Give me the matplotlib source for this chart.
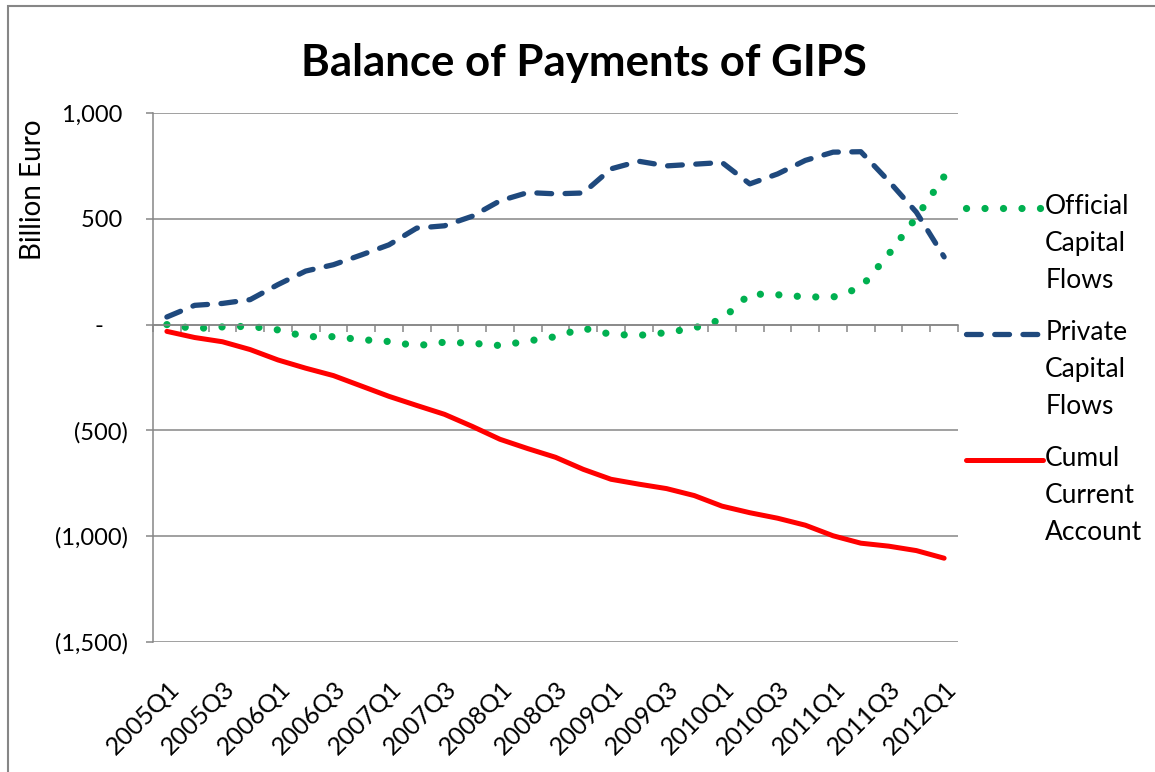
import numpy as np
import matplotlib
matplotlib.use("Agg")
import matplotlib.pyplot as plt
from matplotlib.legend_handler import HandlerLine2D
from matplotlib.patches import Rectangle
from matplotlib.ticker import FuncFormatter

# quarterly series, billion euro
quarters = [f"{y}Q{q}" for y in range(2005, 2013) for q in (1, 2, 3, 4)][:29]
official = [0, -19, -11, -8, -25, -57, -57, -71, -80, -100, -83, -88, -99, -78, -57,
            -17, -46, -51, -38, -16, 25, 145, 141, 131, 130, 175, 332, 507, 700]
private = [36, 91, 100, 118, 189, 253, 283, 329, 377, 456, 467, 512, 585, 624, 618,
           622, 736, 772, 750, 758, 766, 665, 712, 776, 815, 817, 679, 531, 320]
cumul_ca = [-32, -61, -81, -118, -167, -206, -241, -290, -339, -382, -424, -481, -542, -586, -627,
            -684, -731, -754, -775, -808, -858, -889, -915, -948, -998, -1033, -1047, -1068, -1104]
labels = ["Official\nCapital\nFlows", "Private\nCapital\nFlows", "Cumul\nCurrent\nAccount"]
yticks = [-1500, -1000, -500, 0, 500, 1000]

GRAY = "#868686"
FONT = "Lato"
FS = 17
LEG_FS = 19
LEG_LINESPACING = 1.6

plt.rcParams["font.family"] = [FONT, "DejaVu Sans"]


class FirstLineHandler(HandlerLine2D):
    """Put the legend line next to the first line of a multi-line label."""

    def __init__(self, shift, **kw):
        super().__init__(**kw)
        self.shift = shift

    def create_artists(self, legend, orig_handle, xdescent, ydescent, width, height, fontsize, trans):
        artists = super().create_artists(legend, orig_handle, xdescent, ydescent, width, height, fontsize, trans)
        for a in artists:
            a.set_ydata(np.asarray(a.get_ydata()) + self.shift)
        return artists


def fmt(v, _pos):
    if v == 0:
        return "-    "
    if v < 0:
        return f"({abs(v):,.0f})"
    return f"{v:,.0f} "


fig = plt.figure(figsize=(11.55, 7.72), dpi=100)
ax = fig.add_axes([153 / 1155, 1 - 642 / 772, 805 / 1155, 529 / 772])

x = np.arange(len(quarters))
l_off, = ax.plot(x, official, color="#00B050", lw=5.2, linestyle=(0, (0.01, 2.55)),
                 dash_capstyle="round", label=labels[0])
l_priv, = ax.plot(x, private, color="#1F497D", lw=3.8, linestyle=(0, (2.8, 2.55)),
                  dash_capstyle="round", label=labels[1])
l_cum, = ax.plot(x, cumul_ca, color="#FF0000", lw=3.6, solid_capstyle="round",
                 solid_joinstyle="round", label=labels[2])

ax.set_xlim(-0.5, len(quarters) - 0.5)
ax.set_ylim(-1500, 1000)
ax.set_yticks(yticks)
ax.yaxis.set_major_formatter(FuncFormatter(fmt))
ax.grid(axis="y", color=GRAY, lw=1.1)
ax.set_axisbelow(True)

for side in ("top", "right"):
    ax.spines[side].set_visible(False)
ax.spines["left"].set_color(GRAY)
ax.spines["left"].set_linewidth(1.1)
ax.spines["bottom"].set_position(("data", 0))
ax.spines["bottom"].set_color(GRAY)
ax.spines["bottom"].set_linewidth(1.1)

ax.tick_params(axis="y", direction="out", length=5, width=1.1, color=GRAY,
               pad=13, labelsize=FS)
ax.set_xticks(np.arange(-0.5, len(quarters), 1))
ax.tick_params(axis="x", direction="out", length=5, width=1.1, color=GRAY, labelbottom=False)

sec = ax.secondary_xaxis("bottom")
sec.set_xticks(x[::2], labels=quarters[::2], rotation=45, ha="right",
               rotation_mode="anchor", fontsize=18)
sec.tick_params(length=0, pad=25)
sec.spines["bottom"].set_visible(False)

ax.set_ylabel("Billion Euro", fontsize=20, va="center")
ax.yaxis.set_label_coords(-0.149, 0.854)

fig.text(0.506, 1 - 76 / 772, "Balance of Payments of GIPS", fontsize=31.5,
         fontweight="bold", ha="center", va="baseline")

shift = 36 * 72 / 100  # one text line, in points
leg = ax.legend(handles=[l_off, l_priv, l_cum], loc="upper left",
                bbox_to_anchor=(966 / 1155, 1 - 194 / 772), bbox_transform=fig.transFigure,
                frameon=False, fontsize=LEG_FS, handlelength=2.9, handletextpad=0.1,
                labelspacing=1.02, borderpad=0, borderaxespad=0,
                handler_map={l_off: FirstLineHandler(shift),
                             l_priv: FirstLineHandler(shift),
                             l_cum: FirstLineHandler(shift)})
for t in leg.get_texts():
    t.set_linespacing(LEG_LINESPACING)

# outer chart border
fig.patches.append(Rectangle((8 / 1155, -0.1), 1.2, 1.1 - 6 / 772, transform=fig.transFigure,
                             fill=False, edgecolor=GRAY, lw=1.5, zorder=-1))

fig.savefig("out.png", dpi=100)
